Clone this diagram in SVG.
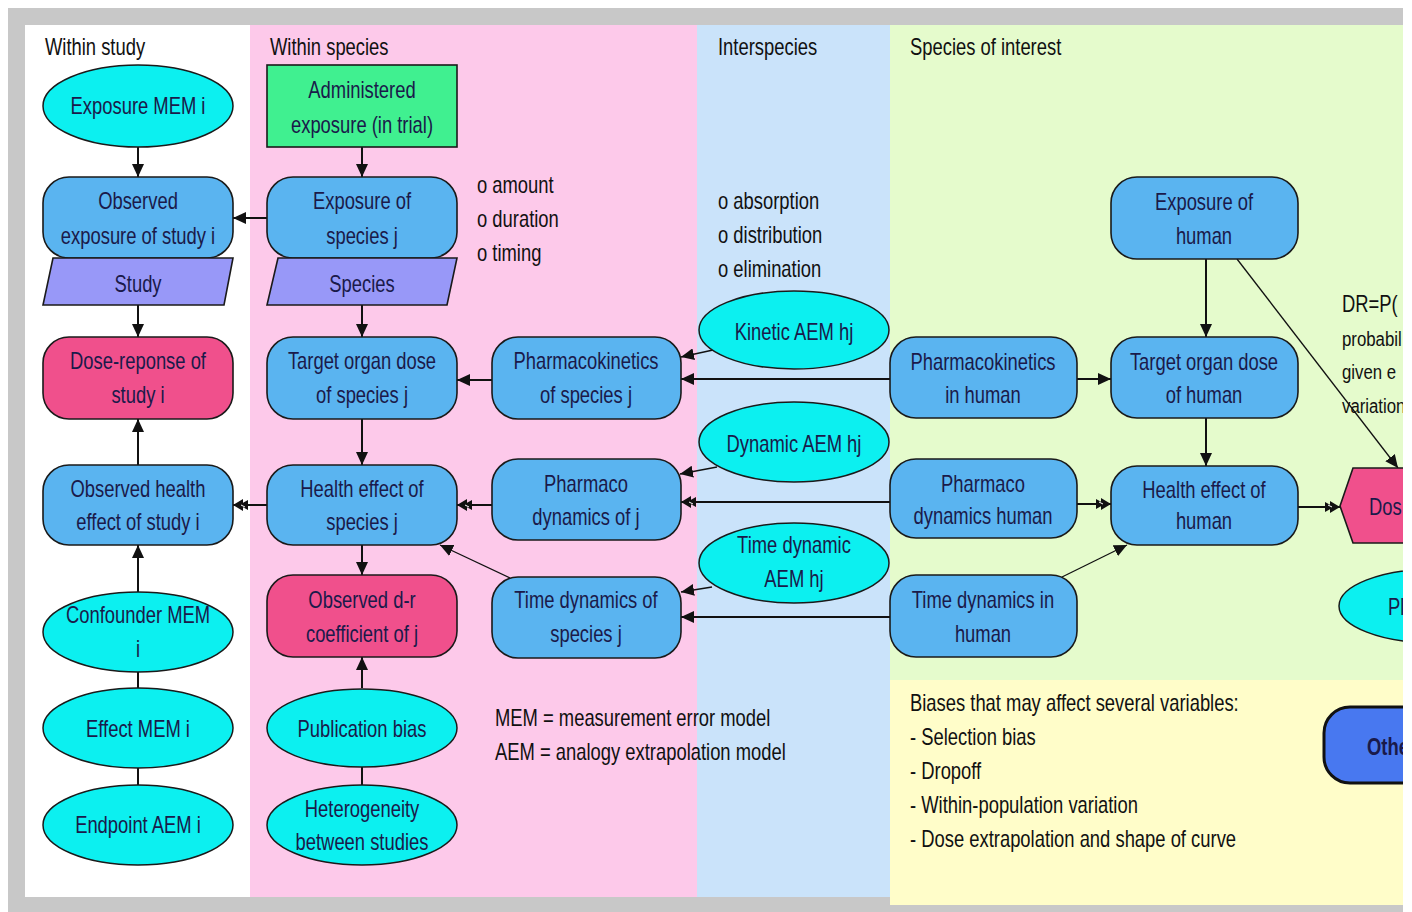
<svg xmlns="http://www.w3.org/2000/svg" width="1412" height="912" viewBox="0 0 1412 912">
<style>
.t{font-family:"Liberation Sans",Arial,sans-serif;font-size:23px;fill:#1a1a4a;text-anchor:middle;transform-box:fill-box;transform-origin:center;transform:scaleX(0.8)}
.l{font-family:"Liberation Sans",Arial,sans-serif;font-size:23px;fill:#111;text-anchor:start;transform-box:fill-box;transform-origin:left center;transform:scaleX(0.8)}
.s{font-size:21px}
.b{font-weight:bold}
.rr{fill:#5ab4f0;stroke:#1a1a1a;stroke-width:1.6}
.pk{fill:#f0508c;stroke:#1a1a1a;stroke-width:1.6}
.el{fill:#0cf0f0;stroke:#1a1a1a;stroke-width:1.5}
.pg{fill:#9898f8;stroke:#1a1a1a;stroke-width:1.6}
.c{fill:none;stroke:#111;stroke-width:2}
.d{fill:none;stroke:#111;stroke-width:1.3}
</style>
<defs>
<clipPath id="frame"><rect x="8" y="8" width="1395" height="904"/></clipPath>
<marker id="a" markerUnits="userSpaceOnUse" markerWidth="14" markerHeight="12" refX="13" refY="6" orient="auto"><path d="M0,0 L13,6 L0,12 Z" fill="#111"/></marker>
<marker id="n" markerUnits="userSpaceOnUse" markerWidth="16" markerHeight="12" refX="15" refY="6" orient="auto"><path d="M0,1 L9,6 L0,11 Z M5,0 L15,6 L5,12 Z" fill="#111"/><path d="M3,4 L7,6" stroke="#fff" stroke-width="1"/></marker>
</defs>
<rect x="0" y="0" width="1412" height="912" fill="#fff"/>
<g clip-path="url(#frame)">
<g id="background">
<rect x="8" y="8" width="1395" height="904" fill="#c8c8c8"/>
<rect x="25" y="25" width="225" height="872" fill="#ffffff"/>
<rect x="250" y="25" width="447" height="872" fill="#fdc9ea"/>
<rect x="697" y="25" width="193" height="872" fill="#cae3fa"/>
<rect x="890" y="25" width="513" height="655" fill="#e5fbcc"/>
<rect x="890" y="680" width="513" height="225" fill="#fffdc9"/>
</g>
<g id="labels">
<text class="l" x="45" y="55">Within study</text>
<text class="l" x="270" y="55">Within species</text>
<text class="l" x="718" y="55">Interspecies</text>
<text class="l" x="910" y="55">Species of interest</text>
<text class="l" x="477" y="193">o amount</text>
<text class="l" x="477" y="227">o duration</text>
<text class="l" x="477" y="261">o timing</text>
<text class="l" x="718" y="209">o absorption</text>
<text class="l" x="718" y="243">o distribution</text>
<text class="l" x="718" y="277">o elimination</text>
<text class="l" x="495" y="726">MEM = measurement error model</text>
<text class="l" x="495" y="760">AEM = analogy extrapolation model</text>
<text class="l" x="910" y="711">Biases that may affect several variables:</text>
<text class="l" x="910" y="745">- Selection bias</text>
<text class="l" x="910" y="779">- Dropoff</text>
<text class="l" x="910" y="813">- Within-population variation</text>
<text class="l" x="910" y="847">- Dose extrapolation and shape of curve</text>
<text class="l" x="1342" y="312">DR=P(</text>
<text class="l s" x="1342" y="346">probabil</text>
<text class="l s" x="1342" y="379">given e</text>
<text class="l s" x="1342" y="413">variation</text>
</g>
<g id="connectors">
<path class="c" d="M138,147 V177" marker-end="url(#a)"/>
<path class="c" d="M362,147 V177" marker-end="url(#a)"/>
<path class="c" d="M267,218 H233" marker-end="url(#a)"/>
<path class="c" d="M138,305 V337" marker-end="url(#a)"/>
<path class="c" d="M362,305 V337" marker-end="url(#a)"/>
<path class="c" d="M138,465 V419" marker-end="url(#a)"/>
<path class="c" d="M362,419 V465" marker-end="url(#a)"/>
<path class="c" d="M267,505 H233" marker-end="url(#n)"/>
<path class="c" d="M362,545 V575" marker-end="url(#a)"/>
<path class="c" d="M138,592 V545" marker-end="url(#a)"/>
<path class="c" d="M138,672 V688"/>
<path class="c" d="M138,768 V785"/>
<path class="c" d="M362,688 V657" marker-end="url(#a)"/>
<path class="c" d="M362,767 V785"/>
<path class="c" d="M492,380 H457" marker-end="url(#a)"/>
<path class="c" d="M492,505 H457" marker-end="url(#n)"/>
<path class="d" d="M510,578 L440,545" marker-end="url(#a)"/>
<path class="d" d="M713,350 L681,357" marker-end="url(#a)"/>
<path class="c" d="M890,379 H681" marker-end="url(#a)"/>
<path class="d" d="M717,467 L680,474" marker-end="url(#a)"/>
<path class="c" d="M890,502 H681" marker-end="url(#n)"/>
<path class="d" d="M712,587 L681,592" marker-end="url(#a)"/>
<path class="c" d="M890,617 H681" marker-end="url(#a)"/>
<path class="c" d="M1077,379 H1111" marker-end="url(#a)"/>
<path class="c" d="M1206,259 V337" marker-end="url(#a)"/>
<path class="d" d="M1237,259 L1398,468" marker-end="url(#a)"/>
<path class="c" d="M1206,418 V466" marker-end="url(#a)"/>
<path class="c" d="M1077,504 H1111" marker-end="url(#n)"/>
<path class="d" d="M1062,577 L1127,545" marker-end="url(#a)"/>
<path class="c" d="M1298,507 H1340" marker-end="url(#n)"/>
</g>
<g id="exposure-mem-i"><ellipse class="el" cx="138" cy="106" rx="95" ry="41"/><text class="t" x="138" y="114">Exposure MEM i</text></g>
<g id="administered-exposure"><rect x="267" y="65" width="190" height="82" fill="#40f090" stroke="#1a1a1a" stroke-width="1.6"/><text class="t" x="362" y="98">Administered</text><text class="t" x="362" y="133">exposure (in trial)</text></g>
<g id="observed-exposure-i"><rect class="rr" x="43" y="177" width="190" height="81" rx="26"/><text class="t" x="138" y="209">Observed</text><text class="t" x="138" y="244">exposure of study i</text></g>
<g id="exposure-species-j"><rect class="rr" x="267" y="177" width="190" height="81" rx="26"/><text class="t" x="362" y="209">Exposure of</text><text class="t" x="362" y="244">species j</text></g>
<g id="study"><polygon class="pg" points="53,258 233,258 224,305 43,305"/><text class="t" x="138" y="292">Study</text></g>
<g id="species"><polygon class="pg" points="278,258 457,258 447,305 267,305"/><text class="t" x="362" y="292">Species</text></g>
<g id="dose-response-i"><rect class="pk" x="43" y="337" width="190" height="82" rx="26"/><text class="t" x="138" y="369">Dose-reponse of</text><text class="t" x="138" y="403">study i</text></g>
<g id="target-organ-j"><rect class="rr" x="267" y="337" width="190" height="82" rx="26"/><text class="t" x="362" y="369">Target organ dose</text><text class="t" x="362" y="403">of species j</text></g>
<g id="observed-health-i"><rect class="rr" x="43" y="465" width="190" height="80" rx="26"/><text class="t" x="138" y="497">Observed health</text><text class="t" x="138" y="530">effect of study i</text></g>
<g id="health-effect-j"><rect class="rr" x="267" y="465" width="190" height="80" rx="26"/><text class="t" x="362" y="497">Health effect of</text><text class="t" x="362" y="530">species j</text></g>
<g id="observed-dr-j"><rect class="pk" x="267" y="575" width="190" height="82" rx="26"/><text class="t" x="362" y="608">Observed d-r</text><text class="t" x="362" y="642">coefficient of j</text></g>
<g id="confounder-mem-i"><ellipse class="el" cx="138" cy="632" rx="95" ry="40"/><text class="t" x="138" y="623">Confounder MEM</text><text class="t" x="138" y="657">i</text></g>
<g id="effect-mem-i"><ellipse class="el" cx="138" cy="728" rx="95" ry="40"/><text class="t" x="138" y="737">Effect MEM i</text></g>
<g id="endpoint-aem-i"><ellipse class="el" cx="138" cy="825" rx="95" ry="40"/><text class="t" x="138" y="833">Endpoint AEM i</text></g>
<g id="publication-bias"><ellipse class="el" cx="362" cy="728" rx="95" ry="39"/><text class="t" x="362" y="737">Publication bias</text></g>
<g id="heterogeneity"><ellipse class="el" cx="362" cy="825" rx="95" ry="40"/><text class="t" x="362" y="817">Heterogeneity</text><text class="t" x="362" y="850">between studies</text></g>
<g id="pk-species-j"><rect class="rr" x="492" y="337" width="189" height="82" rx="26"/><text class="t" x="586" y="369">Pharmacokinetics</text><text class="t" x="586" y="403">of species j</text></g>
<g id="pd-j"><rect class="rr" x="492" y="459" width="189" height="81" rx="26"/><text class="t" x="586" y="492">Pharmaco</text><text class="t" x="586" y="525">dynamics of j</text></g>
<g id="time-dynamics-j"><rect class="rr" x="492" y="577" width="189" height="81" rx="26"/><text class="t" x="586" y="608">Time dynamics of</text><text class="t" x="586" y="642">species j</text></g>
<g id="kinetic-aem"><ellipse class="el" cx="794" cy="330" rx="95" ry="39"/><text class="t" x="794" y="340">Kinetic AEM hj</text></g>
<g id="dynamic-aem"><ellipse class="el" cx="794" cy="442" rx="95" ry="40"/><text class="t" x="794" y="452">Dynamic AEM hj</text></g>
<g id="time-dynamic-aem"><ellipse class="el" cx="794" cy="563" rx="95" ry="40"/><text class="t" x="794" y="553">Time dynamic</text><text class="t" x="794" y="587">AEM hj</text></g>
<g id="exposure-human"><rect class="rr" x="1111" y="177" width="187" height="82" rx="26"/><text class="t" x="1204" y="210">Exposure of</text><text class="t" x="1204" y="244">human</text></g>
<g id="pk-human"><rect class="rr" x="890" y="337" width="187" height="81" rx="26"/><text class="t" x="983" y="370">Pharmacokinetics</text><text class="t" x="983" y="403">in human</text></g>
<g id="target-organ-human"><rect class="rr" x="1111" y="337" width="187" height="81" rx="26"/><text class="t" x="1204" y="370">Target organ dose</text><text class="t" x="1204" y="403">of human</text></g>
<g id="pd-human"><rect class="rr" x="890" y="459" width="187" height="79" rx="26"/><text class="t" x="983" y="492">Pharmaco</text><text class="t" x="983" y="524">dynamics human</text></g>
<g id="health-effect-human"><rect class="rr" x="1111" y="466" width="187" height="79" rx="26"/><text class="t" x="1204" y="498">Health effect of</text><text class="t" x="1204" y="529">human</text></g>
<g id="time-dynamics-human"><rect class="rr" x="890" y="575" width="187" height="82" rx="26"/><text class="t" x="983" y="608">Time dynamics in</text><text class="t" x="983" y="642">human</text></g>
<g id="dose-node"><polygon class="pk" points="1340,506 1353,468 1460,468 1473,506 1460,543 1353,543"/><text class="l" x="1369" y="515" style="fill:#1a1a4a">Dos</text></g>
<g id="pl-node"><ellipse class="el" cx="1434" cy="606" rx="95" ry="37"/><text class="l" x="1388" y="615" style="fill:#1a1a4a">Pl</text></g>
<g id="other-node"><rect x="1324" y="707" width="200" height="76" rx="26" fill="#4878f0" stroke="#111" stroke-width="3"/><text class="l b" x="1367" y="755" style="fill:#1a1a4a">Othe</text></g>
</g>
</svg>
